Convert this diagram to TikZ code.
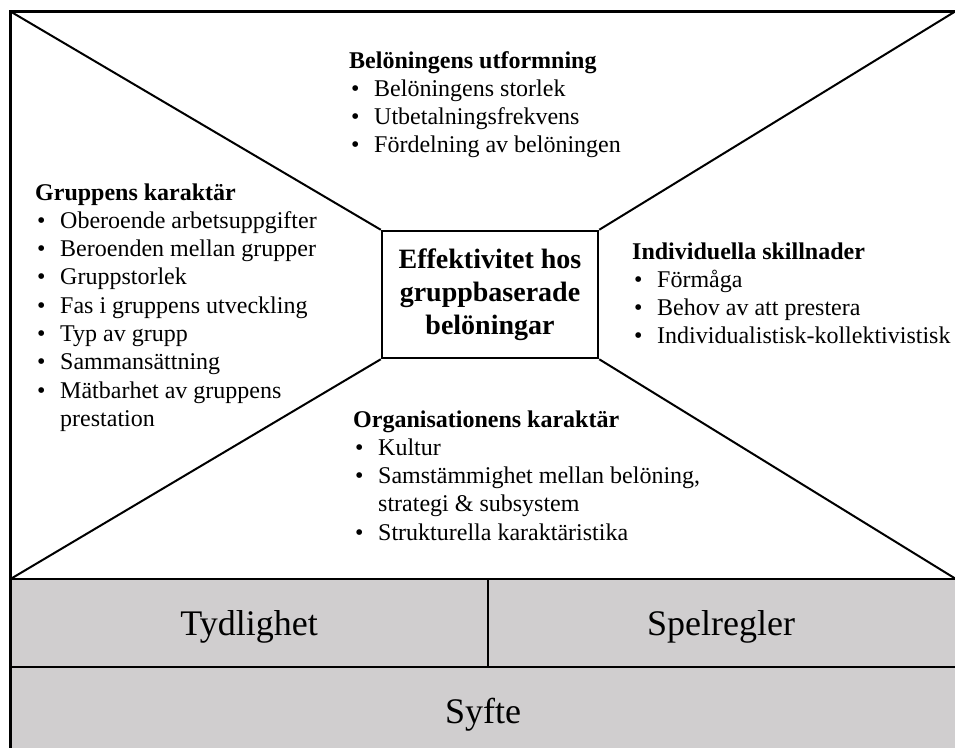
\documentclass[tikz,border=0pt]{standalone}
\usepackage{fontspec}
\setmainfont{Liberation Serif}
\definecolor{bandgray}{RGB}{208,206,207}
\newcommand\blt{\makebox[25pt][l]{\hspace{2pt}•}}
\tikzset{
  block/.style={anchor=base west, inner sep=0pt, font=\fontsize{24}{28.3}\selectfont},
  band/.style={anchor=base, inner sep=0pt, font=\fontsize{36}{40}\selectfont},
  diag/.style={line width=2pt},
}
\begin{document}
\begin{tikzpicture}[x=1pt,y=-1pt]
\useasboundingbox (0,0) rectangle (955,747);
\clip (0,0) rectangle (955,747);
\fill[white] (0,0) rectangle (955,747);
% gray band
\fill[bandgray] (10.5,579) rectangle (960,750);
% outer frame
\draw[line width=3pt] (10.5,760) -- (10.5,11.5) -- (960,11.5);
\draw[line width=2.5pt] (10.5,579) -- (960,579);
\draw[line width=2.5pt] (10.5,667) -- (960,667);
\draw[line width=2.5pt] (488,579) -- (488,667);
% corners
\coordinate (tl) at (10.5,11.5);
\coordinate (tr) at (960,8.5);
\coordinate (bl) at (10.5,579);
\coordinate (br) at (960,581.5);
% center box
\node[draw, line width=2.5pt, minimum width=216pt, minimum height=127pt, inner sep=0pt,
      align=center, font=\fontsize{28}{33}\selectfont\bfseries] (c) at (490,294.5)
  {Effektivitet hos\\gruppbaserade\\belöningar};
\draw[diag] (tl) -- (c.north west);
\draw[diag] (tr) -- (c.north east);
\draw[diag] (bl) -- (c.south west);
\draw[diag] (br) -- (c.south east);
% text blocks
\node[block] (top) at (349,68) {\begin{tabular}[t]{@{}l@{}}
\textbf{Belöningens utformning}\\
\blt Belöningens storlek\\
\blt Utbetalningsfrekvens\\
\blt Fördelning av belöningen
\end{tabular}};
\node[block] (left) at (35,200) {\begin{tabular}[t]{@{}l@{}}
\textbf{Gruppens karaktär}\\
\blt Oberoende arbetsuppgifter\\
\blt Beroenden mellan grupper\\
\blt Gruppstorlek\\
\blt Fas i gruppens utveckling\\
\blt Typ av grupp\\
\blt Sammansättning\\
\blt Mätbarhet av gruppens\\
\hspace{25pt}prestation
\end{tabular}};
\node[block] (right) at (632,259) {\begin{tabular}[t]{@{}l@{}}
\textbf{Individuella skillnader}\\
\blt Förmåga\\
\blt Behov av att prestera\\
\blt Individualistisk-kollektivistisk
\end{tabular}};
\node[block] (bottom) at (353,427) {\begin{tabular}[t]{@{}l@{}}
\textbf{Organisationens karaktär}\\
\blt Kultur\\
\blt Samstämmighet mellan belöning,\\
\hspace{25pt}strategi \& subsystem\\
\blt Strukturella karaktäristika
\end{tabular}};
% band labels
\node[band] (tyd) at (249,635) {Tydlighet};
\node[band] (spel) at (721,635) {Spelregler};
\node[band] (syf) at (483,723) {Syfte};
\end{tikzpicture}
\end{document}
